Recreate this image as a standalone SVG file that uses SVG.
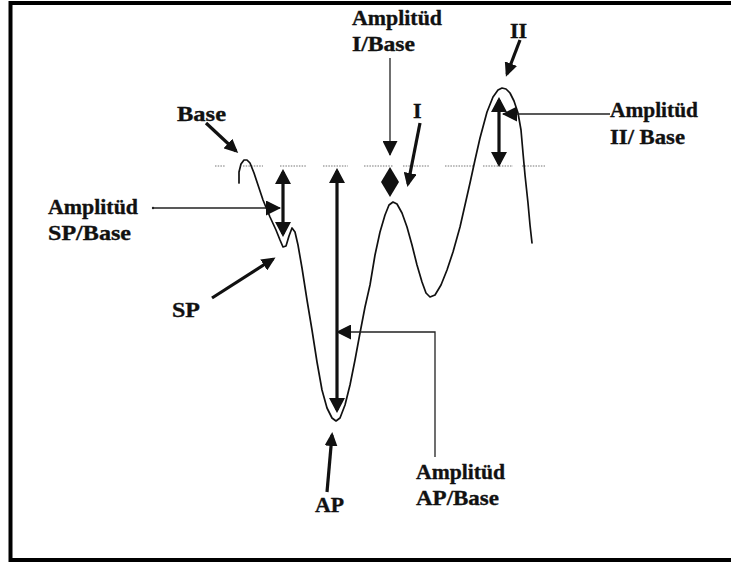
<svg xmlns="http://www.w3.org/2000/svg" width="731" height="562" viewBox="0 0 731 562">
<style>
.t{font-family:"Liberation Serif","Times New Roman",serif;font-weight:bold;font-size:22px;fill:#111;stroke:#111;stroke-width:0.35}
.thick{stroke:#111;stroke-width:3.2;fill:none}
.thin{stroke:#222;stroke-width:1.3;fill:none}
.curve{stroke:#111;stroke-width:1.7;fill:none;stroke-linejoin:round;stroke-linecap:round}
.base{stroke:#777;stroke-width:1.2;stroke-dasharray:1.5 1.2;fill:none}
</style>
<defs>
<marker id="ha" viewBox="0 0 14 13" refX="11" refY="6.5" markerWidth="14" markerHeight="13" markerUnits="userSpaceOnUse" orient="auto"><path d="M0,0 L14,6.5 L0,13 z" fill="#111"/></marker>
<marker id="hb" viewBox="0 0 15 16" refX="12" refY="8" markerWidth="15" markerHeight="16" markerUnits="userSpaceOnUse" orient="auto-start-reverse"><path d="M0,0 L15,8 L0,16 z" fill="#111"/></marker>
<marker id="hc" viewBox="0 0 15 15" refX="14" refY="7.5" markerWidth="15" markerHeight="15" markerUnits="userSpaceOnUse" orient="auto"><path d="M0,0 L15,7.5 L0,15 z" fill="#111"/></marker>
</defs>
<rect x="0" y="0" width="731" height="562" fill="#fff"/>
<rect x="10.5" y="3" width="740" height="557" fill="none" stroke="#000" stroke-width="4"/>
<g id="baseline">
<path class="base" d="M215,166H225M243,166H263M280,166H306M323,166H348M364,166H393M403,166H430M445,166H473M483,166H513M522,166H545"/>
</g>
<g id="signal">
<polyline class="curve" points="239,183 239,172 241,164 244,160 247,160 250,163 254,173 258,185 263,200 270,217 276,230 280,240 283,247 286,246 289,236 292,228 295,232 298,245 302,268 307,300 312,330 317,362 322,390 327,408 332,418 336,421 340,418 345,405 350,385 355,360 360,333 365,307 370,285 375,255 380,232 385,215 389,205 393,202 397,204 402,213 407,227 412,245 417,265 422,282 426,293 430,297 435,295 441,285 447,270 453,252 460,227 465,205 470,183 475,160 480,138 487,112 493,97 498,90 502,88 506,89 510,93 514,101 518,113 521,130 523,153 525,175 528,203 530,225 532,243"/>
</g>
<g id="connectors">
<line class="thick" x1="206" y1="123" x2="236" y2="151" marker-end="url(#ha)"/>
<line class="thick" x1="212" y1="298" x2="273" y2="259" marker-end="url(#ha)"/>
<line class="thick" x1="327" y1="492" x2="332" y2="435" marker-end="url(#ha)"/>
<line class="thick" x1="420" y1="123" x2="408" y2="184" marker-end="url(#ha)"/>
<line class="thick" x1="520" y1="40" x2="507" y2="74" marker-end="url(#ha)"/>
<line class="thick" x1="283" y1="172" x2="283" y2="234" marker-start="url(#hb)" marker-end="url(#hb)"/>
<line class="thick" x1="337" y1="171" x2="337" y2="410" marker-start="url(#hb)" marker-end="url(#hb)"/>
<line class="thick" x1="499" y1="100" x2="499" y2="164" marker-start="url(#hb)" marker-end="url(#hb)"/>
<polygon points="390,167 399,182 390,197 381,182" fill="#111"/>
<circle cx="153" cy="208" r="1.2" fill="#222"/>
<line class="thin" x1="153" y1="208" x2="280" y2="208" marker-end="url(#hc)"/>
<line class="thin" x1="390" y1="58" x2="390" y2="155" marker-end="url(#hc)"/>
<line class="thin" x1="610" y1="114" x2="503" y2="114" marker-end="url(#hc)"/>
<path class="thin" d="M435,457 V332 H337" marker-end="url(#hc)"/>
</g>
<g id="label-amp-i">
<text class="t" x="352" y="25" textLength="90" lengthAdjust="spacingAndGlyphs">Amplitüd</text>
<text class="t" x="352" y="51" textLength="63" lengthAdjust="spacingAndGlyphs">I/Base</text>
</g>
<g id="label-ii"><text class="t" x="510" y="38">II</text></g>
<g id="label-base"><text class="t" x="177" y="121" textLength="49" lengthAdjust="spacingAndGlyphs">Base</text></g>
<g id="label-i"><text class="t" x="413" y="118">I</text></g>
<g id="label-amp-ii">
<text class="t" x="610" y="117" textLength="88" lengthAdjust="spacingAndGlyphs">Amplitüd</text>
<text class="t" x="610" y="144" textLength="75" lengthAdjust="spacingAndGlyphs">II/ Base</text>
</g>
<g id="label-amp-sp">
<text class="t" x="48" y="214" textLength="90" lengthAdjust="spacingAndGlyphs">Amplitüd</text>
<text class="t" x="48" y="240" textLength="83" lengthAdjust="spacingAndGlyphs">SP/Base</text>
</g>
<g id="label-sp"><text class="t" x="172" y="317" textLength="28" lengthAdjust="spacingAndGlyphs">SP</text></g>
<g id="label-amp-ap">
<text class="t" x="416" y="479" textLength="89" lengthAdjust="spacingAndGlyphs">Amplitüd</text>
<text class="t" x="416" y="505" textLength="83" lengthAdjust="spacingAndGlyphs">AP/Base</text>
</g>
<g id="label-ap"><text class="t" x="315" y="512" textLength="29" lengthAdjust="spacingAndGlyphs">AP</text></g>
</svg>
